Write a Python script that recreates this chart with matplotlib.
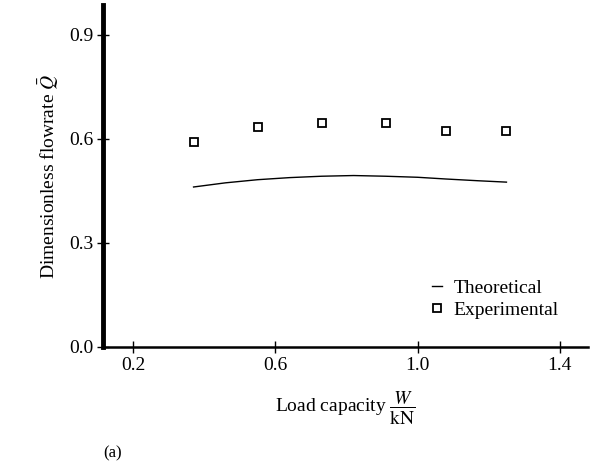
import matplotlib.pyplot as plt
import numpy as np

plt.rcParams['font.family'] = ['Liberation Serif', 'DejaVu Serif']
plt.rcParams['mathtext.fontset'] = 'stix'

# experimental points
exp_w = [0.37, 0.55, 0.73, 0.91, 1.08, 1.25]
exp_q = [0.590, 0.634, 0.645, 0.645, 0.623, 0.623]

# theoretical curve
theo_w = [0.37, 0.46, 0.55, 0.64, 0.73, 0.82, 0.91, 1.00, 1.08, 1.17, 1.25]
theo_q = [0.461, 0.473, 0.482, 0.488, 0.492, 0.494, 0.492, 0.489, 0.484, 0.479, 0.475]

xticks = [0.2, 0.6, 1.0, 1.4]
xlabels = ['0.2', '0.6', '1.0', '1.4']
yticks = [0.0, 0.3, 0.6, 0.9]
ylabels = ['0.0', '0.3', '0.6', '0.9']

fig = plt.figure(figsize=(5.9, 4.67), dpi=100)
ax = fig.add_axes([0.175, 0.257, 0.822, 0.732])

ax.plot(theo_w, theo_q, color='black', lw=1.0, label='Theoretical')
ax.plot(exp_w, exp_q, ls='none', marker='s', ms=5.5, mfc='white',
        mec='black', mew=1.3, label='Experimental')

ax.set_xlim(0.116, 1.48)
ax.set_ylim(0.0, 0.985)
ax.set_xticks(xticks)
ax.set_xticklabels(xlabels)
ax.set_yticks(yticks)
ax.set_yticklabels(ylabels)

for s in ['top', 'right']:
    ax.spines[s].set_visible(False)
ax.spines['left'].set_linewidth(3.5)
ax.spines['bottom'].set_linewidth(1.8)
ax.tick_params(direction='inout', length=8, width=1.0, labelsize=14, pad=3)

ax.set_ylabel(r'Dimensionless flowrate $\bar{Q}$', fontsize=14, labelpad=6)
ax.set_xlabel(r'Load capacity $\dfrac{W}{\mathrm{kN}}$', fontsize=14, labelpad=12)

leg = ax.legend(loc='lower right', bbox_to_anchor=(0.975, 0.03), frameon=False,
                fontsize=14, handlelength=0.5, handletextpad=0.6,
                labelspacing=0.25)

fig.text(0.19, 0.02, '(a)', fontsize=12, ha='center')

fig.savefig('out.png', dpi=100)
